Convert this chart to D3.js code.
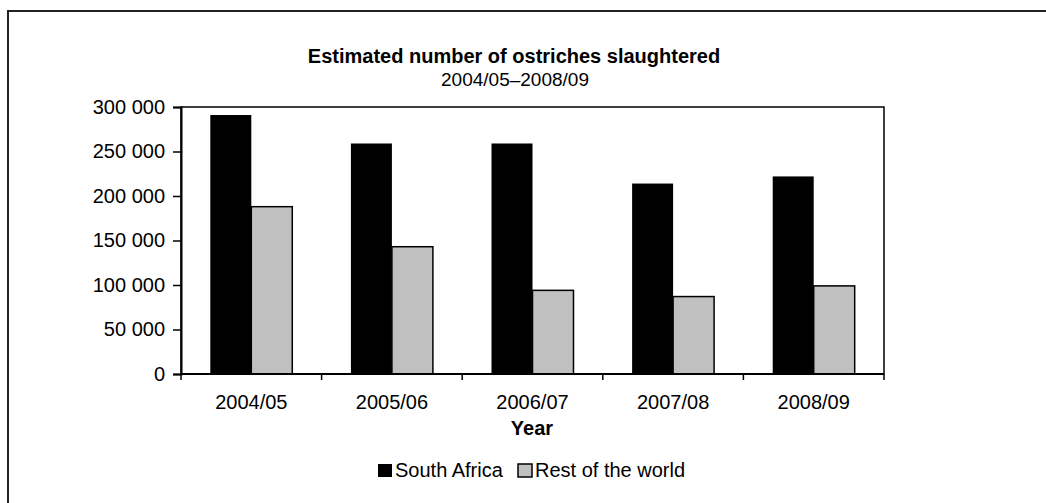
<!DOCTYPE html>
<html>
<head>
<meta charset="utf-8">
<script src="https://cdn.jsdelivr.net/npm/d3@7"></script>
<style>
  body { margin: 0; background: #fff; }
  text { font-family: "Liberation Sans", Arial, sans-serif; fill: #000; }
</style>
</head>
<body>
<svg id="chart" width="1046" height="503"></svg>
<script>
// data
const years = ['2004/05', '2005/06', '2006/07', '2007/08', '2008/09']
const seriesNames = ['South Africa', 'Rest of the world']
const southAfrica = [291000, 259000, 259000, 214000, 222000]
const restOfWorld = [188000, 143000, 94000, 87000, 99000]
const yTicks = [0, 50000, 100000, 150000, 200000, 250000, 300000]
const colours = ['#000000', '#c0c0c0']

const svg = d3.select('#chart')

// outer frame (runs off the page at right and bottom)
svg.append('rect')
    .attr('x', 8).attr('y', 11)
    .attr('width', 1100).attr('height', 600)
    .attr('fill', 'none')
    .attr('stroke', '#222')
    .attr('stroke-width', 2)

// plot area
const plot = { left: 181, top: 107, right: 884, bottom: 374 }

const x = d3.scaleBand().domain(years).range([plot.left, plot.right])
const xs = d3.scaleBand().domain(seriesNames).range([0, x.bandwidth()]).paddingOuter(0.715)
const y = d3.scaleLinear().domain([0, 300000]).range([plot.bottom, plot.top])

const fmt = d3.formatLocale({ decimal: '.', thousands: ' ', grouping: [3], currency: ['', ''] }).format(',')

// title
svg.append('text')
    .attr('x', 514).attr('y', 63)
    .attr('text-anchor', 'middle')
    .style('font-size', '20px')
    .style('font-weight', 'bold')
    .text('Estimated number of ostriches slaughtered')
svg.append('text')
    .attr('x', 515).attr('y', 86)
    .attr('text-anchor', 'middle')
    .style('font-size', '19px')
    .text('2004/05–2008/09')

// plot border
svg.append('rect')
    .attr('x', plot.left).attr('y', plot.top)
    .attr('width', plot.right - plot.left)
    .attr('height', plot.bottom - plot.top)
    .attr('fill', 'none')
    .attr('stroke', '#000')
    .attr('stroke-width', 1.5)

// bars
const rows = years.map((yr, i) => ({ year: yr, values: [southAfrica[i], restOfWorld[i]] }))
const groups = svg.append('g').selectAll('g')
    .data(rows)
    .enter()
    .append('g')
    .attr('transform', d => `translate(${x(d.year)},0)`)
groups.selectAll('rect')
    .data(d => d.values.map((v, k) => ({ name: seriesNames[k], value: v, k })))
    .enter()
    .append('rect')
    .attr('x', d => xs(d.name))
    .attr('y', d => y(d.value))
    .attr('width', xs.bandwidth())
    .attr('height', d => y(0) - y(d.value))
    .attr('fill', d => colours[d.k])
    .attr('stroke', d => d.k === 1 ? '#000' : 'none')
    .attr('stroke-width', 1.5)

// y axis
const yAxis = svg.append('g')
    .attr('transform', `translate(${plot.left},0)`)
    .call(d3.axisLeft(y).tickValues(yTicks).tickFormat(fmt).tickSize(8).tickPadding(8))
yAxis.select('.domain').attr('stroke-width', 2)
yAxis.selectAll('line').attr('stroke-width', 1.5)
yAxis.selectAll('text').style('font-size', '20px').attr('font-family', null)

// x axis: labels at band centres, ticks at band edges
const xAxis = svg.append('g')
    .attr('transform', `translate(0,${plot.bottom})`)
    .call(d3.axisBottom(x).tickSize(0).tickPadding(21))
xAxis.select('.domain').remove()
xAxis.selectAll('text').style('font-size', '20px').attr('font-family', null)
const edges = years.map(d => x(d)).concat([plot.right])
svg.append('path')
    .attr('d', d3.line()([[plot.left, plot.bottom], [plot.right, plot.bottom]]))
    .attr('stroke', '#000')
    .attr('stroke-width', 2)
svg.append('g').selectAll('path')
    .data(edges)
    .enter()
    .append('path')
    .attr('d', d => `M${d},${plot.bottom}L${d},${plot.bottom + 6}`)
    .attr('stroke', '#000')
    .attr('stroke-width', 1.5)

// axis title
svg.append('text')
    .attr('x', 532).attr('y', 435)
    .attr('text-anchor', 'middle')
    .style('font-size', '20px')
    .style('font-weight', 'bold')
    .text('Year')

// legend
const legend = svg.append('g')
const legendX = [378, 518]
seriesNames.forEach((name, k) => {
    legend.append('rect')
        .attr('x', legendX[k]).attr('y', 464)
        .attr('width', 14).attr('height', 13)
        .attr('fill', colours[k])
        .attr('stroke', k === 1 ? '#000' : 'none')
        .attr('stroke-width', 1.5)
    legend.append('text')
        .attr('x', legendX[k] + 17).attr('y', 477)
        .style('font-size', '20px')
        .text(name)
})
</script>
</body>
</html>
